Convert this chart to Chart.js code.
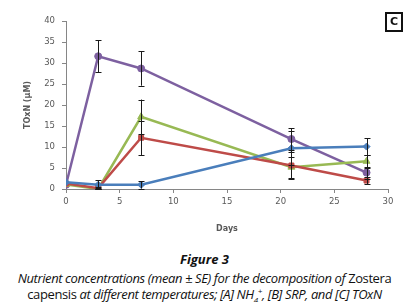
<!DOCTYPE html>
<html>
<head>
<meta charset="utf-8">
<script src="https://cdn.jsdelivr.net/npm/chart.js@4.4.1/dist/chart.umd.min.js"></script>
<style>
  body { margin: 0; background: #fff; }
  #wrap { position: relative; width: 409px; height: 302px; overflow: hidden; }
  #graph { position: absolute; left: 0; top: 0; width: 409px; height: 240px; }
  #box { position: absolute; left: 385px; top: 12px; width: 14px; height: 16px; border: 2px solid #111;
         font: bold 11px "DejaVu Sans", sans-serif; text-align: center; line-height: 16px; color: #111; }
  #fig { position: absolute; left: 0; top: 250px; width: 409px; text-align: center;
         font: italic bold 13px "Open Sans", sans-serif; color: #111; }
  .cap { position: absolute; left: 0; width: 409px; text-align: center;
         font: italic 13px "Open Sans", sans-serif; color: #111; letter-spacing: -0.4px; white-space: nowrap; }
  .up { font-style: normal; }
</style>
</head>
<body>
<div id="wrap">
  <div id="graph"><canvas id="chartCanvas" width="409" height="240"></canvas></div>
  <div id="box">C</div>
  <div id="fig">Figure 3</div>
  <div class="cap" style="top:269px">Nutrient concentrations (mean ± SE) for the decomposition of <span class="up">Zostera</span></div>
  <div class="cap" style="top:285px"><span class="up">capensis</span> at different temperatures; [A] NH<sub style="font-size:8px">4</sub><sup style="font-size:8px">+</sup>, [B] SRP, and [C] TOxN</div>
</div>
<script>
// Données (jours et TOxN en µM)
var days = [0, 3, 7, 21, 28];

var blueVals   = [1.6, 1.0, 1.0, 9.7, 10.1];
var blueErr    = [0, 1.1, 0.9, 4.0, 2.0];
var redVals    = [1.3, 0.2, 12.2, 5.6, 2.0];
var redErr     = [0, 0.3, 4.1, 3.1, 0.8];
var greenVals  = [1.1, 0.0, 17.2, 5.2, 6.6];
var greenErr   = [0, 0.3, 4.1, 2.5, 1.5];
var purpleVals = [1.0, 31.6, 28.7, 11.9, 3.9];
var purpleErr  = [0, 3.8, 4.1, 2.6, 1.4];

var xTicks = [0, 5, 10, 15, 20, 25, 30];
var yTicks = [0, 5, 10, 15, 20, 25, 30, 35, 40];

function toPoints(vals) {
    return days.map(function (d, i) { return { x: d, y: vals[i] }; });
}

function makeSet(vals, err, color, shape, radius) {
    return {
        data: toPoints(vals),
        errors: err,
        borderColor: color,
        backgroundColor: color,
        borderWidth: 2.5,
        pointStyle: shape,
        pointRadius: radius,
        pointBorderWidth: 1,
        tension: 0
    };
}

// Barres d'erreur (moyenne ± SE)
var errorBars = {
    id: 'errorBars',
    afterDatasetsDraw: function (chart) {
        var ctx = chart.ctx;
        var xs = chart.scales.x, ys = chart.scales.y;
        ctx.save();
        ctx.strokeStyle = '#1a1a1a';
        ctx.lineWidth = 1;
        chart.data.datasets.forEach(function (ds) {
            ds.data.forEach(function (p, i) {
                var e = ds.errors[i];
                if (!e) return;
                var x = Math.round(xs.getPixelForValue(p.x)) + 0.5;
                var y1 = ys.getPixelForValue(p.y + e);
                var y2 = ys.getPixelForValue(Math.max(0, p.y - e));
                ctx.beginPath();
                ctx.moveTo(x, y1); ctx.lineTo(x, y2);
                ctx.moveTo(x - 3, Math.round(y1) + 0.5); ctx.lineTo(x + 3, Math.round(y1) + 0.5);
                ctx.moveTo(x - 3, Math.round(y2) + 0.5); ctx.lineTo(x + 3, Math.round(y2) + 0.5);
                ctx.stroke();
            });
        });
        ctx.restore();
    }
};

var gray = '#868686';
var tickFont = { family: 'DejaVu Sans', size: 8.5 };

var canvas = document.getElementById('chartCanvas');
var chart = new Chart(canvas, {
    type: 'line',
    data: {
        datasets: [
            makeSet(blueVals, blueErr, '#4a7ebb', 'rectRot', 3.5),
            makeSet(redVals, redErr, '#be4b48', 'rect', 3.5),
            makeSet(greenVals, greenErr, '#98b954', 'triangle', 4),
            makeSet(purpleVals, purpleErr, '#7d60a0', 'circle', 3.5)
        ]
    },
    options: {
        responsive: false,
        animation: false,
        layout: { padding: { left: 23, right: 21, top: 21, bottom: 0 } },
        plugins: { legend: { display: false }, tooltip: { enabled: false } },
        scales: {
            x: {
                type: 'linear',
                min: 0, max: 30,
                afterBuildTicks: function (s) { s.ticks = xTicks.map(function (v) { return { value: v }; }); },
                afterFit: function (s) { s.height = 51; },
                grid: { drawOnChartArea: false, drawTicks: true, tickLength: 4, color: gray },
                border: { color: gray },
                ticks: { font: tickFont, color: '#595959', padding: 4, maxRotation: 0 },
                title: { display: true, text: 'Days', font: { family: 'DejaVu Sans', size: 8, weight: 'bold' }, color: '#595959', padding: { top: 0, bottom: 6 } }
            },
            y: {
                min: 0, max: 40,
                afterBuildTicks: function (s) { s.ticks = yTicks.map(function (v) { return { value: v }; }); },
                afterFit: function (s) { s.width = 43; },
                grid: { drawOnChartArea: false, drawTicks: true, tickLength: 4, color: gray },
                border: { color: gray },
                ticks: { font: tickFont, color: '#595959', padding: 7 },
                title: { display: true, text: 'TOxN (μM)', font: { family: 'DejaVu Sans', size: 8, weight: 'bold' }, color: '#595959', padding: 0 }
            }
        }
    },
    plugins: [errorBars]
});
</script>
</body>
</html>
